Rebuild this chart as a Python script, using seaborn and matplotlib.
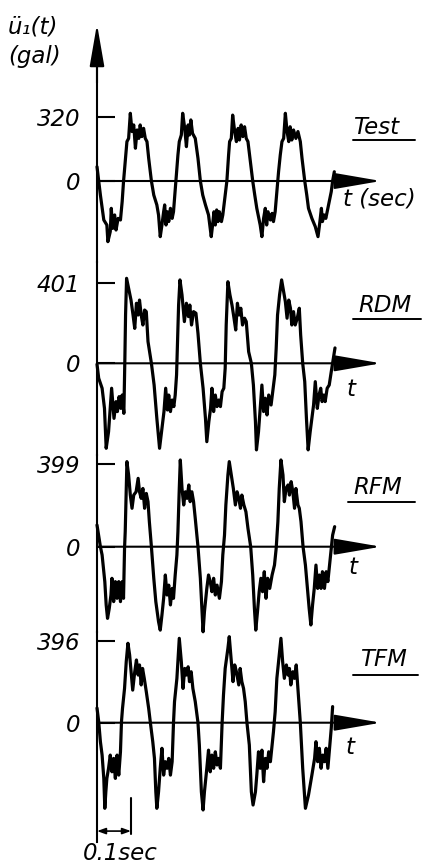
import matplotlib
matplotlib.use('Agg')
import matplotlib.pyplot as plt
import seaborn as sns

# Traces: time in ms, acceleration in gal
t_test = [0, 10, 20, 29, 32, 39, 42, 46, 52, 56, 62, 69, 74, 78, 83, 88, 93, 98, 103, 108,
          113, 118, 123, 127, 132, 137, 142, 147, 152, 160, 167, 176, 181, 186, 191, 196, 199, 203, 207, 211,
          216, 221, 225, 232, 238, 242, 248, 252, 258, 263, 268, 272, 276, 281, 289, 297, 304, 311, 319, 328,
          336, 340, 344, 348, 352, 356, 360, 366, 370, 377, 382, 387, 390, 395, 399, 405, 410, 415, 419, 424,
          429, 434, 439, 444, 451, 458, 464, 470, 480, 485, 490, 495, 499, 503, 510, 515, 519, 524, 529, 534,
          539, 544, 549, 554, 559, 564, 568, 573, 578, 585, 591, 598, 603, 611, 617, 622, 632, 642, 650, 655,
          660, 663, 668, 673, 681, 689, 693, 698]
a_test = [71, -70, -194, -219, -302, -252, -136, -236, -169, -244, -186, -194, -103, -3, 96, 196, 212, 337, 246, 279,
          163, 254, 212, 279, 221, 262, 212, 196, 113, 0, -70, -119, -169, -277, -219, -153, -119, -219, -153, -202,
          -136, -186, -153, -3, 129, 196, 229, 337, 262, 171, 279, 229, 304, 237, 212, 113, 0, -70, -119, -169,
          -277, -219, -153, -219, -144, -202, -153, -202, -169, -70, 0, 129, 196, 212, 328, 246, 196, 262, 204, 279,
          221, 270, 212, 196, 96, 0, -70, -136, -219, -277, -186, -136, -219, -153, -194, -161, -202, -153, -53, 46,
          129, 196, 212, 337, 246, 196, 270, 204, 254, 212, 246, 196, 113, 0, -70, -136, -186, -227, -277, -211,
          -136, -202, -169, -186, -119, -53, 0, 46]

t_rdm = [0, 5, 15, 22, 27, 34, 39, 43, 50, 56, 60, 65, 70, 74, 79, 82, 84, 87, 93, 100,
         106, 111, 116, 121, 125, 130, 135, 140, 145, 150, 160, 168, 176, 184, 191, 197, 202, 207, 211, 216,
         221, 226, 230, 234, 237, 240, 244, 250, 257, 263, 269, 273, 278, 284, 291, 297, 304, 312, 319, 323,
         329, 334, 338, 343, 348, 353, 358, 363, 368, 373, 377, 380, 385, 391, 397, 403, 408, 413, 418, 423,
         428, 434, 439, 446, 454, 460, 466, 469, 475, 480, 485, 490, 495, 500, 505, 512, 517, 523, 527, 531,
         537, 543, 549, 554, 559, 564, 569, 573, 578, 583, 589, 595, 599, 605, 611, 616, 621, 627, 632, 637,
         642, 648, 653, 658, 662, 667, 671, 677, 683, 689, 700]
a_rdm = [-5, -75, -125, -226, -426, -343, -226, -125, -276, -192, -242, -167, -226, -159, -251, 25, 242, 426, 376, 317,
         242, 175, 301, 242, 317, 242, 192, 267, 259, 109, 0, -109, -276, -426, -326, -242, -125, -234, -159, -242,
         -184, -217, -159, -58, 109, 292, 418, 343, 209, 301, 234, 292, 192, 259, 251, 150, 0, -125, -276, -393,
         -292, -226, -125, -242, -159, -217, -184, -217, -142, -125, -25, 192, 409, 343, 292, 226, 167, 301, 242, 276,
         192, 226, 209, 58, 0, -109, -292, -434, -343, -226, -109, -242, -175, -259, -159, -209, -142, -58, 75, 242,
         343, 418, 359, 309, 226, 317, 276, 192, 259, 192, 226, 276, 142, 0, -92, -276, -434, -343, -276, -209,
         -92, -226, -159, -125, -192, -159, -192, -125, -109, -42, 77]

t_rfm = [0, 10, 15, 23, 27, 31, 36, 41, 44, 49, 54, 59, 64, 69, 74, 78, 81, 83, 86, 88,
         93, 98, 103, 108, 115, 121, 125, 130, 135, 140, 145, 150, 154, 160, 167, 173, 181, 186, 191, 196,
         201, 206, 211, 216, 221, 225, 230, 235, 238, 242, 245, 250, 255, 260, 265, 270, 274, 279, 284, 289,
         297, 304, 309, 312, 316, 323, 328, 333, 338, 343, 348, 353, 360, 366, 370, 375, 379, 385, 389, 395,
         401, 407, 412, 417, 422, 426, 432, 438, 444, 452, 458, 463, 467, 472, 477, 482, 487, 492, 497, 502,
         508, 515, 522, 527, 532, 536, 541, 547, 551, 556, 562, 566, 571, 576, 581, 585, 591, 595, 600, 606,
         613, 619, 624, 629, 634, 639, 644, 649, 654, 659, 663, 669, 674, 679, 684, 689, 693, 699]
a_rfm = [105, 0, -40, -170, -282, -347, -299, -234, -153, -266, -169, -250, -169, -266, -169, -250, -8, 73, 282, 412,
         347, 250, 186, 250, 266, 331, 266, 234, 282, 186, 258, 218, 121, 0, -153, -266, -363, -404, -331, -250,
         -137, -234, -186, -282, -202, -250, -137, -40, 73, 282, 420, 282, 202, 266, 234, 299, 218, 266, 218, 137,
         0, -153, -315, -412, -315, -202, -137, -169, -218, -153, -234, -186, -250, -169, -40, 56, 202, 347, 412, 347,
         282, 202, 266, 234, 186, 250, 202, 169, 89, 0, -137, -299, -404, -315, -218, -153, -218, -121, -250, -153,
         -202, -137, -89, -8, 121, 282, 420, 347, 218, 282, 299, 250, 315, 266, 186, 282, 202, 186, 121, 0,
         -89, -202, -299, -379, -282, -202, -89, -202, -137, -202, -121, -202, -121, -169, -89, -8, 56, 97]

t_tfm = [0, 5, 10, 15, 20, 23, 26, 29, 34, 39, 44, 49, 54, 59, 64, 69, 72, 75, 81, 86,
         91, 96, 101, 105, 111, 116, 121, 125, 130, 134, 139, 145, 152, 157, 164, 169, 173, 176, 181, 186,
         191, 196, 201, 206, 211, 216, 221, 225, 228, 235, 242, 248, 253, 258, 263, 268, 272, 277, 282, 289,
         297, 301, 307, 312, 316, 323, 328, 333, 338, 343, 348, 353, 358, 363, 368, 372, 377, 385, 389, 395,
         400, 405, 410, 417, 421, 426, 431, 436, 441, 448, 454, 459, 466, 470, 475, 480, 485, 490, 495, 500,
         505, 510, 515, 519, 524, 529, 534, 541, 546, 551, 557, 562, 566, 570, 576, 581, 586, 591, 598, 605,
         613, 622, 632, 640, 644, 649, 654, 659, 664, 669, 674, 679, 683, 689, 693]
a_tfm = [71, 5, -92, -157, -270, -415, -335, -270, -221, -157, -238, -173, -270, -157, -254, -141, 5, 69, 166, 296,
         385, 328, 231, 158, 247, 304, 231, 280, 183, 263, 215, 150, 69, 0, -92, -173, -335, -415, -335, -221,
         -124, -254, -189, -221, -173, -254, -189, 0, 102, 215, 409, 296, 166, 263, 231, 271, 199, 247, 166, 102,
         0, -108, -335, -423, -335, -221, -133, -238, -157, -221, -141, -205, -173, -221, 0, 134, 263, 360, 417, 296,
         199, 280, 247, 183, 263, 199, 166, 102, 0, -108, -335, -399, -335, -254, -141, -221, -133, -286, -173, -221,
         -141, -189, -108, -44, 53, 215, 296, 409, 296, 215, 280, 231, 263, 183, 247, 215, 280, 166, 0, -221,
         -415, -351, -254, -173, -92, -189, -124, -221, -157, -189, -124, -221, -141, -27, 78]

names = ['Test', 'RDM', 'RFM', 'TFM']
peak_ticks = [320, 401, 399, 396]
time_labels = ['t (sec)', 't', 't', 't']
scale_ms = 100

sns.set_style('white')
plt.rcParams['font.family'] = ['DejaVu Sans']
plt.rcParams['font.style'] = 'italic'
for key in ['text.color', 'axes.labelcolor', 'xtick.color', 'ytick.color', 'axes.edgecolor']:
    plt.rcParams[key] = 'black'
FS = 16.5

W, H = 428, 868
fig = plt.figure(figsize=(W / 100, H / 100), dpi=100)

# overlay in pixel units, for the lettering only
ov = fig.add_axes([0, 0, 1, 1])
ov.set_xlim(0, W)
ov.set_ylim(H, 0)
ov.axis('off')

# layout (pixels): vertical axis position, time scale, panel bands
x_axis = 97
px_per_ms = 0.34
t_max = (W - x_axis) / px_per_ms
t_arrow = (381 - x_axis) / px_per_ms
# top, bottom, zero line, peak tick
bands = [(63, 262, 181.0, 116.7),
         (262, 455, 363.3, 283.3),
         (455, 632, 546.7, 464.3),
         (632, 842, 722.7, 641.0)]
name_pos = [(353, 127, 140, 353, 415),
            (358, 305, 319, 353, 421),
            (353, 487, 502, 348, 415),
            (360, 659, 675, 353, 418)]
tlab_pos = [(343, 199), (347, 390), (349, 567), (346, 747)]

arrow_kw = dict(color='black', lw=1.5, shrinkA=0, shrinkB=0, mutation_scale=10)
traces = [(t_test, a_test), (t_rdm, a_rdm), (t_rfm, a_rfm), (t_tfm, a_tfm)]
axes = []
for (t, a), peak, (top, bot, zero, tick) in zip(traces, peak_ticks, bands):
    ax = fig.add_axes([x_axis / W, 1 - bot / H, (W - x_axis) / W, (bot - top) / H])
    ax.patch.set_alpha(0)
    gal_per_px = peak / (zero - tick)
    sns.lineplot(x=t, y=a, ax=ax, color='black', linewidth=2.3, sort=False, estimator=None)
    ax.lines[-1].set_clip_on(False)
    ax.set_xlim(0, t_max)
    ax.set_ylim(-(bot - zero) * gal_per_px, (zero - top) * gal_per_px)
    ax.set_xlabel('')
    ax.set_ylabel('')
    for s in ['top', 'right', 'bottom']:
        ax.spines[s].set_visible(False)
    ax.spines['left'].set_linewidth(1.5)
    ax.spines['left'].set_color('black')
    ax.set_xticks([])
    ax.set_yticks([0, peak])
    ax.set_yticklabels(['0', str(peak)], fontstyle='italic')
    ax.tick_params(axis='y', left=True, direction='in', length=13, width=1.5,
                   pad=12, labelsize=FS, colors='black')
    ax.annotate('', xy=(t_arrow, 0), xytext=(0, 0), annotation_clip=False,
                arrowprops=dict(arrowstyle='-|>,head_length=2.9,head_width=0.5', **arrow_kw))
    axes.append(ax)

# arrow head on top of the ordinate
top_ax = axes[0]
top, bot = bands[0][0], bands[0][1]
top_ax.annotate('', xy=(0, 1 + (top - 24) / (bot - top)), xytext=(0, 0.9),
                xycoords='axes fraction', textcoords='axes fraction',
                arrowprops=dict(arrowstyle='-|>,head_length=2.6,head_width=0.45', **arrow_kw))

# 0.1 sec scale bar under the last trace
last = axes[-1]
trans = last.get_xaxis_transform()
last.annotate('', xy=(scale_ms, 0.052), xytext=(0, 0.052), xycoords=trans, textcoords=trans,
              arrowprops=dict(arrowstyle='<|-|>,head_length=0.5,head_width=0.18',
                              color='black', lw=1.2, shrinkA=0, shrinkB=0, mutation_scale=10))
last.axvline(scale_ms, ymin=0.04, ymax=0.21, color='black', lw=1.5, clip_on=False)

# lettering
ov.text(8, 27, 'ü₁(t)', fontsize=FS, ha='left', va='center')
ov.text(8, 57, '(gal)', fontsize=FS, ha='left', va='center')
for name, (x, y, yu, xu0, xu1) in zip(names, name_pos):
    ov.text(x, y, name, fontsize=FS, ha='left', va='center')
    ov.plot([xu0, xu1], [yu, yu], color='black', lw=1.4)
for lab, (x, y) in zip(time_labels, tlab_pos):
    ov.text(x, y, lab, fontsize=FS, ha='left', va='center')
ov.text(83, 854, '0.1sec', fontsize=FS, ha='left', va='center')

fig.savefig('out.png', dpi=100)
